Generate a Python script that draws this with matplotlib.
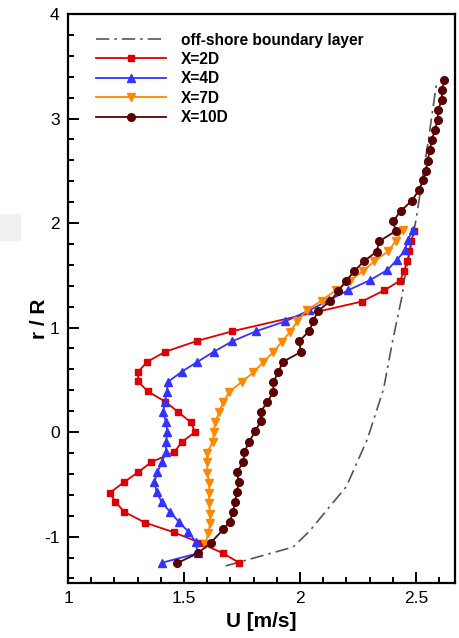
import matplotlib
matplotlib.use('Agg')
import matplotlib.pyplot as plt
from matplotlib.patches import Rectangle

plt.rcParams['font.family'] = ['Liberation Sans', 'DejaVu Sans']
plt.rcParams['axes.unicode_minus'] = False

# boundary layer (dash-dot)
bl_u = [1.68, 1.97, 2.04, 2.20, 2.29, 2.36, 2.40, 2.44, 2.45, 2.50, 2.55, 2.59]
bl_r = [-1.28, -1.10, -0.95, -0.52, -0.07, 0.41, 0.88, 1.30, 1.46, 2.03, 2.74, 3.36]

# X=2D
u2 = [1.737, 1.669, 1.569, 1.458, 1.333, 1.243, 1.204, 1.181, 1.243, 1.302, 1.358,
      1.458, 1.490, 1.547, 1.530, 1.476, 1.420, 1.343, 1.302, 1.302, 1.342, 1.420,
      1.556, 1.708, 2.266, 2.362, 2.432, 2.448, 2.463, 2.472, 2.480, 2.493]
r2 = [-1.25, -1.16, -1.06, -0.96, -0.867, -0.764, -0.668, -0.579, -0.476, -0.384, -0.288,
      -0.19, -0.096, 0.0, 0.092, 0.19, 0.29, 0.39, 0.485, 0.578, 0.674, 0.77,
      0.872, 0.965, 1.249, 1.355, 1.45, 1.54, 1.636, 1.73, 1.83, 1.927]

# X=4D
u4 = [1.404, 1.559, 1.550, 1.519, 1.478, 1.440, 1.404, 1.382, 1.372, 1.385, 1.404,
      1.422, 1.422, 1.428, 1.422, 1.410, 1.418, 1.425, 1.432, 1.490, 1.557, 1.629,
      1.708, 1.810, 1.937, 2.040, 2.125, 2.208, 2.302, 2.376, 2.417, 2.453, 2.464, 2.486]
r4 = [-1.25, -1.16, -1.05, -0.953, -0.86, -0.764, -0.671, -0.575, -0.479, -0.384, -0.288,
      -0.19, -0.096, 0.0, 0.096, 0.19, 0.29, 0.384, 0.482, 0.578, 0.671, 0.77,
      0.869, 0.965, 1.06, 1.166, 1.262, 1.358, 1.454, 1.55, 1.645, 1.74, 1.834, 1.933]

# X=7D
u7 = [1.591, 1.605, 1.612, 1.612, 1.608, 1.608, 1.609, 1.600, 1.600, 1.598, 1.626,
      1.627, 1.634, 1.652, 1.669, 1.695, 1.749, 1.799, 1.842, 1.885, 1.921, 1.957,
      1.988, 2.029, 2.093, 2.154, 2.215, 2.273, 2.320, 2.381, 2.412, 2.442]
r7 = [-1.071, -0.968, -0.872, -0.783, -0.68, -0.579, -0.489, -0.393, -0.29, -0.196, -0.09,
      0.0, 0.096, 0.192, 0.288, 0.384, 0.482, 0.571, 0.671, 0.767, 0.863, 0.959,
      1.06, 1.166, 1.259, 1.358, 1.45, 1.54, 1.636, 1.732, 1.827, 1.93]

# X=10D
u10 = [1.468, 1.559, 1.616, 1.669, 1.698, 1.710, 1.720, 1.727, 1.737, 1.727, 1.756,
       1.760, 1.780, 1.806, 1.830, 1.830, 1.859, 1.885, 1.885, 1.907, 1.925, 2.004,
       1.996, 2.039, 2.057, 2.076, 2.129, 2.165, 2.197, 2.234, 2.276, 2.330, 2.342,
       2.412, 2.402, 2.434, 2.481, 2.513, 2.531, 2.542, 2.550, 2.560, 2.568, 2.582,
       2.593, 2.596, 2.611, 2.613, 2.622]
r10 = [-1.256, -1.16, -1.058, -0.93, -0.857, -0.767, -0.671, -0.575, -0.479, -0.384, -0.288,
       -0.192, -0.096, 0.006, 0.102, 0.192, 0.288, 0.384, 0.479, 0.575, 0.671, 0.767,
       0.869, 0.965, 1.06, 1.156, 1.252, 1.348, 1.444, 1.54, 1.636, 1.726, 1.827,
       1.923, 2.019, 2.115, 2.211, 2.316, 2.412, 2.499, 2.594, 2.70, 2.796, 2.892,
       2.988, 3.083, 3.179, 3.275, 3.371]

fig = plt.figure(figsize=(4.6, 6.38), dpi=100)
ax = fig.add_axes([0.148, 0.086, 0.841, 0.892])

# faint grey patch at the left edge of the original
fig.patches.append(Rectangle((0, 0.623), 0.045, 0.042, transform=fig.transFigure,
                             facecolor='#f1f1f1', edgecolor='none', zorder=0))

ax.plot(bl_u, bl_r, color='#555555', lw=1.2, dashes=(8, 3, 1.5, 3),
        label='off-shore boundary layer')
ax.plot(u2, r2, color='#dd0000', lw=1.3, marker='s', ms=5, label='X=2D')
ax.plot(u4, r4, color='#3333ff', lw=1.3, marker='^', ms=6, label='X=4D')
ax.plot(u7, r7, color='#ff8800', lw=1.3, marker='v', ms=6, label='X=7D')
ax.plot(u10, r10, color='#5a0000', lw=1.3, marker='o', ms=5.5, label='X=10D')

ax.set_xlim(1, 2.668)
ax.set_ylim(-1.445, 4)
ax.set_xticks([1, 1.5, 2, 2.5])
ax.set_xticklabels(['1', '1.5', '2', '2.5'])
ax.set_yticks([-1, 0, 1, 2, 3, 4])
ax.set_xticks([1 + 0.1 * i for i in range(17)], minor=True)
ax.set_yticks([-1.4 + 0.2 * i for i in range(28)], minor=True)

ax.tick_params(which='both', direction='in', top=False, right=False, width=1.4,
               labelsize=12.5, color='black')
ax.tick_params(which='major', length=8, pad=6)
ax.tick_params(which='minor', length=4)
for s in ax.spines.values():
    s.set_linewidth(1.6)

ax.set_xlabel('U [m/s]', fontsize=15, fontweight='bold', labelpad=4)
ax.set_ylabel('r / R', fontsize=15, fontweight='bold')
ax.yaxis.set_label_coords(-0.05, 0.464)

ax.legend(loc='upper left', bbox_to_anchor=(0.035, 0.992), frameon=False,
          prop={'weight': 'bold', 'size': 11.2}, handlelength=4.5,
          handletextpad=1.0, labelspacing=0.28)

fig.savefig('out.png', dpi=100)
